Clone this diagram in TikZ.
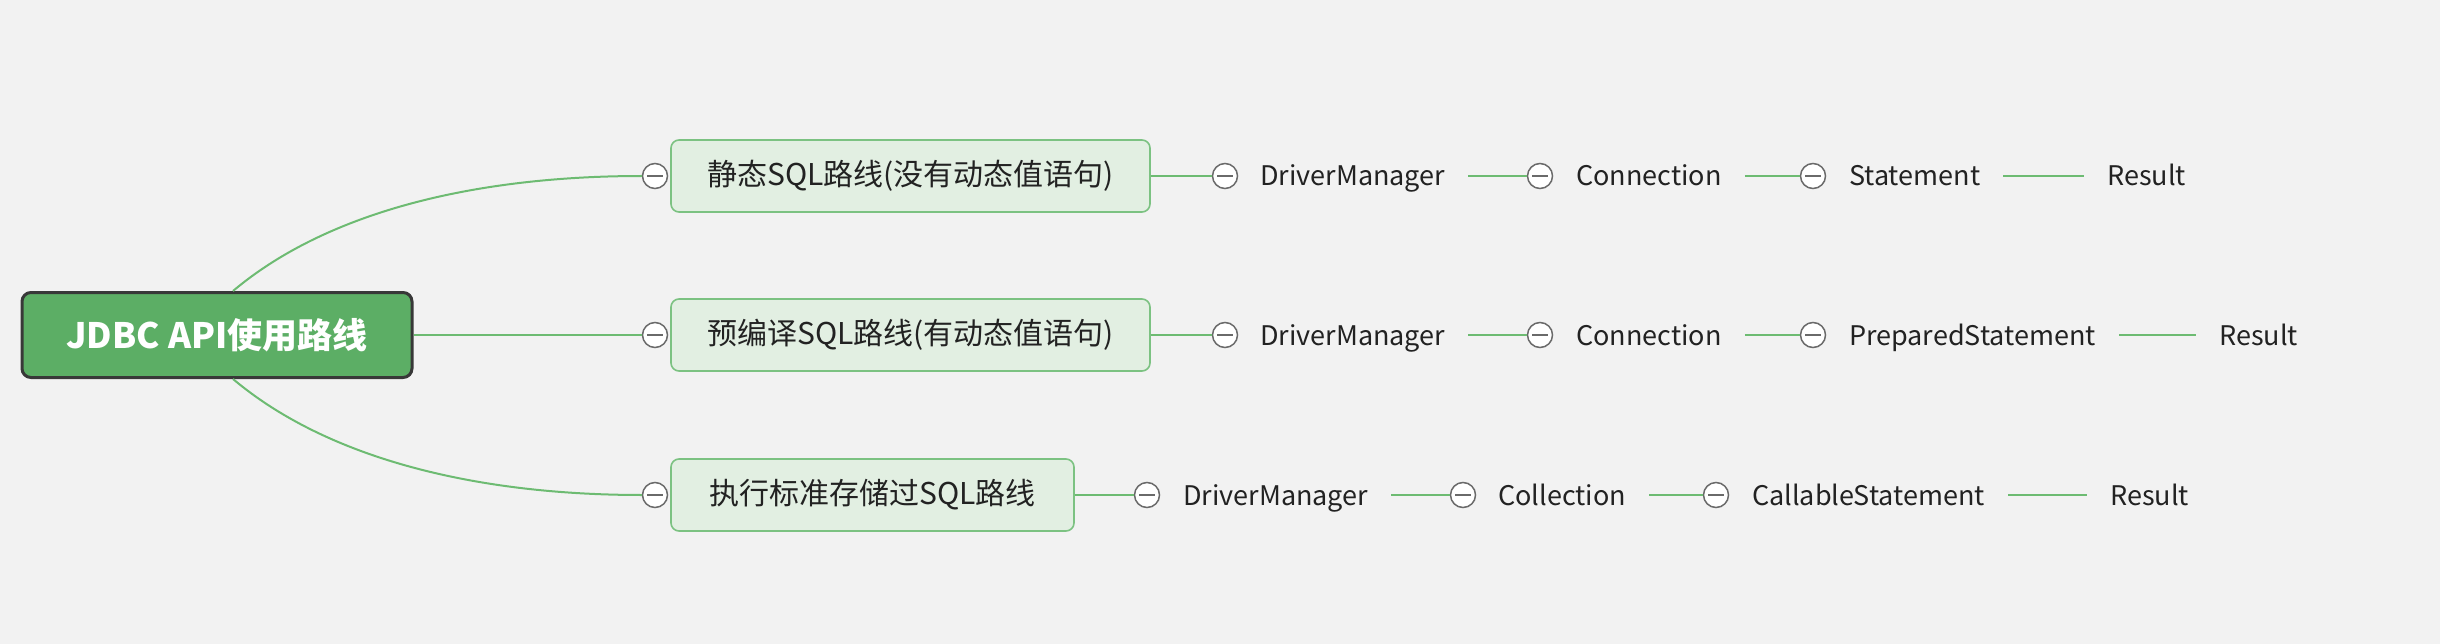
\documentclass[tikz,border=0pt]{standalone}
\usepackage{fontspec}
\setmainfont{Noto Sans CJK SC}
\definecolor{bgc}{HTML}{F2F2F2}
\definecolor{rootfill}{HTML}{5CAE65}
\definecolor{rootline}{HTML}{383838}
\definecolor{boxfill}{HTML}{E2EFE2}
\definecolor{boxline}{HTML}{7CC282}
\definecolor{conn}{HTML}{6DBB72}
\definecolor{circline}{HTML}{6A6A6A}
\definecolor{txt}{HTML}{222222}
\tikzset{
  rootbox/.style={draw=rootline, line width=3pt, fill=rootfill, rounded corners=9pt,
    minimum width=390pt, minimum height=85pt, text=white,
    font=\fontsize{35}{40}\selectfont\bfseries},
  l1box/.style={draw=boxline, line width=1.6pt, fill=boxfill, rounded corners=8pt,
    minimum height=72pt, text=txt, font=\fontsize{30}{35}\selectfont},
  coll/.style={circle, draw=circline, line width=1.5pt, fill=white, minimum size=25pt, inner sep=0pt,
    path picture={\draw[circline, line width=1.5pt] ([xshift=-8pt]path picture bounding box.center) -- ([xshift=8pt]path picture bounding box.center);}},
  rowtext/.style={anchor=west, inner xsep=23pt, inner ysep=0pt, text height=25pt, text depth=5pt,
    text=txt, font=\fontsize{27}{32}\selectfont},
  link/.style={draw=conn, line width=2pt}
}
\begin{document}
\begin{tikzpicture}[x=1pt,y=-1pt]
\fill[bgc] (0,0) rectangle (2440,644);
\useasboundingbox (0,0) rectangle (2440,644);

% root
\node[rootbox] (root) at (217,335) {JDBC API使用路线};

% level 1
\node[l1box, minimum width=479pt] (b1) at (910.5,176) {静态SQL路线(没有动态值语句)};
\node[l1box, minimum width=479pt] (b2) at (910.5,335) {预编译SQL路线(有动态值语句)};
\node[l1box, minimum width=403pt] (b3) at (872.5,495) {执行标准存储过SQL路线};

\coordinate (rt) at ([xshift=16pt]root.north);
\coordinate (rb) at ([xshift=16pt]root.south);

\node[coll] (c01) at (655,176) {};
\node[coll] (c02) at (655,335) {};
\node[coll] (c03) at (655,495) {};

\draw[link] (rt) .. controls +(95,-80) and +(-165,0) .. (c01.west);
\draw[link] (rb) .. controls +(95,80) and +(-165,0) .. (c03.west);
\draw[link] (root.east) -- (c02.west);

% row 1
\node[coll] (c11) at (1225,176) {};
\node[rowtext] (t11) at (1237,176) {DriverManager};
\node[coll] (c12) at (1540,176) {};
\node[rowtext] (t12) at (1553,176) {Connection};
\node[coll] (c13) at (1813,176) {};
\node[rowtext] (t13) at (1826,176) {Statement};
\node[rowtext] (t14) at (2084,176) {Result};
\draw[link] (b1.east) -- (c11.west);
\draw[link] (t11.east) -- (c12.west);
\draw[link] (t12.east) -- (c13.west);
\draw[link] (t13.east) -- (t14.west);

% row 2
\node[coll] (c21) at (1225,335) {};
\node[rowtext] (t21) at (1237,335) {DriverManager};
\node[coll] (c22) at (1540,335) {};
\node[rowtext] (t22) at (1553,335) {Connection};
\node[coll] (c23) at (1813,335) {};
\node[rowtext] (t23) at (1826,335) {PreparedStatement};
\node[rowtext] (t24) at (2196,335) {Result};
\draw[link] (b2.east) -- (c21.west);
\draw[link] (t21.east) -- (c22.west);
\draw[link] (t22.east) -- (c23.west);
\draw[link] (t23.east) -- (t24.west);

% row 3
\node[coll] (c31) at (1147,495) {};
\node[rowtext] (t31) at (1160,495) {DriverManager};
\node[coll] (c32) at (1463,495) {};
\node[rowtext] (t32) at (1475,495) {Collection};
\node[coll] (c33) at (1716,495) {};
\node[rowtext] (t33) at (1729,495) {CallableStatement};
\node[rowtext] (t34) at (2087,495) {Result};
\draw[link] (b3.east) -- (c31.west);
\draw[link] (t31.east) -- (c32.west);
\draw[link] (t32.east) -- (c33.west);
\draw[link] (t33.east) -- (t34.west);
\end{tikzpicture}
\end{document}
